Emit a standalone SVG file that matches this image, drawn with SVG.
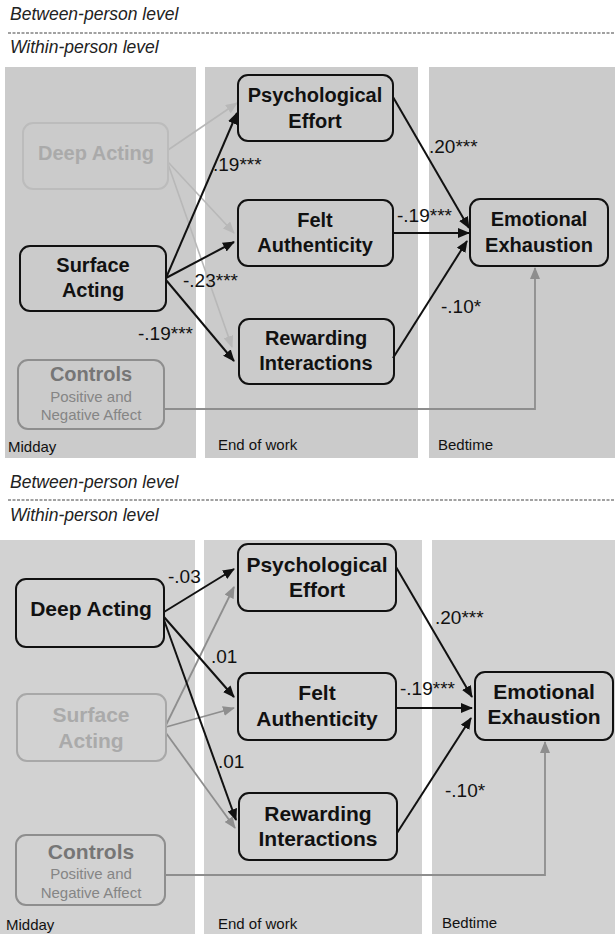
<svg xmlns="http://www.w3.org/2000/svg" width="615" height="934" viewBox="0 0 615 934">
<style>
.lvl{font-family:"Liberation Sans",Arial,sans-serif;font-style:italic;font-size:17.5px;fill:#222}
.col{fill:#cbcbcb}
.col2{fill:#d2d2d2}
.tm{font-family:"Liberation Sans",Arial,sans-serif;font-size:15px;fill:#111}
.box{fill:none;stroke:#111;stroke-width:2}
.gbox{fill:none;stroke:#bcbcbc;stroke-width:2}
.g2box{fill:none;stroke:#8e8e8e;stroke-width:2}
.nt{font-family:"Liberation Sans",Arial,sans-serif;font-weight:bold;font-size:20px;fill:#111;text-anchor:middle}
.nt2{font-family:"Liberation Sans",Arial,sans-serif;font-weight:bold;font-size:21px;fill:#111;text-anchor:middle}
.gt{fill:#aaaaaa}
.g2t{fill:#767676}
.sub{font-family:"Liberation Sans",Arial,sans-serif;font-size:15px;fill:#858585;text-anchor:middle}
.lab{font-family:"Liberation Sans",Arial,sans-serif;font-size:19px;fill:#111}
.blk{stroke:#111;stroke-width:2;fill:none;marker-end:url(#ab)}
.lg{stroke:#b8b8b8;stroke-width:1.6;fill:none;marker-end:url(#al)}
.mg{stroke:#8e8e8e;stroke-width:1.8;fill:none;marker-end:url(#am)}
.dash{stroke:#444;stroke-width:1.2;stroke-dasharray:3 1.5}
</style>
<defs>
<marker id="ab" markerWidth="12" markerHeight="10" refX="11" refY="5" orient="auto" markerUnits="userSpaceOnUse"><path d="M0,0 L12,5 L0,10 Z" fill="#111"/></marker>
<marker id="al" markerWidth="12" markerHeight="10" refX="11" refY="5" orient="auto" markerUnits="userSpaceOnUse"><path d="M0,0 L12,5 L0,10 Z" fill="#b8b8b8"/></marker>
<marker id="am" markerWidth="12" markerHeight="10" refX="11" refY="5" orient="auto" markerUnits="userSpaceOnUse"><path d="M0,0 L12,5 L0,10 Z" fill="#8e8e8e"/></marker>
</defs>
<rect width="615" height="934" fill="#fff"/>

<!-- Top panel header -->
<text class="lvl" x="10" y="20">Between-person level</text>
<line class="dash" x1="8" y1="33" x2="615" y2="33"/>
<text class="lvl" x="10" y="53">Within-person level</text>

<g id="top-columns">
<rect class="col" x="5" y="67" width="191" height="391"/>
<rect class="col" x="205" y="67" width="213" height="391"/>
<rect class="col" x="429" y="67" width="186" height="391"/>
<text class="tm" x="8" y="452">Midday</text>
<text class="tm" x="218" y="450">End of work</text>
<text class="tm" x="438" y="450">Bedtime</text>
</g>

<g id="top-connectors">
<line class="lg" x1="168" y1="150" x2="237" y2="103"/>
<line class="lg" x1="168" y1="162" x2="234" y2="233"/>
<line class="lg" x1="168" y1="164" x2="232" y2="347"/>
<line class="blk" x1="166" y1="278" x2="237" y2="113"/>
<line class="blk" x1="166" y1="278" x2="234" y2="242"/>
<line class="blk" x1="166" y1="280" x2="234" y2="361"/>
<line class="blk" x1="393" y1="97" x2="469" y2="228"/>
<line class="blk" x1="393" y1="233" x2="469" y2="233"/>
<line class="blk" x1="393" y1="358" x2="467" y2="241"/>
<polyline class="mg" points="164,409 535,409 535,268"/>
<text class="lab" x="213" y="171">.19***</text>
<text class="lab" x="183" y="287">-.23***</text>
<text class="lab" x="138" y="340">-.19***</text>
<text class="lab" x="429" y="153">.20***</text>
<text class="lab" x="397" y="222">-.19***</text>
<text class="lab" x="441" y="313">-.10*</text>
</g>

<g id="top-deep-acting">
<rect class="gbox" x="23" y="123" width="145" height="66" rx="10"/>
<text class="nt gt" x="96" y="160">Deep Acting</text>
</g>
<g id="top-surface-acting">
<rect class="box" x="20" y="246" width="146" height="65" rx="10"/>
<text class="nt" x="93" y="272">Surface</text>
<text class="nt" x="93" y="297">Acting</text>
</g>
<g id="top-controls">
<rect class="g2box" x="18" y="360" width="146" height="69" rx="10"/>
<text class="nt g2t" x="91" y="381">Controls</text>
<text class="sub" x="91" y="402">Positive and</text>
<text class="sub" x="91" y="420">Negative Affect</text>
</g>
<g id="top-psych-effort">
<rect class="box" x="238" y="75" width="155" height="66" rx="10"/>
<text class="nt" x="315" y="102">Psychological</text>
<text class="nt" x="315" y="128">Effort</text>
</g>
<g id="top-felt-auth">
<rect class="box" x="238" y="200" width="155" height="66" rx="10"/>
<text class="nt" x="315" y="227">Felt</text>
<text class="nt" x="315" y="252">Authenticity</text>
</g>
<g id="top-rewarding">
<rect class="box" x="239" y="319" width="155" height="65" rx="10"/>
<text class="nt" x="316" y="345">Rewarding</text>
<text class="nt" x="316" y="370">Interactions</text>
</g>
<g id="top-emotional-exhaustion">
<rect class="box" x="470" y="199" width="138" height="67" rx="10"/>
<text class="nt" x="539" y="226">Emotional</text>
<text class="nt" x="539" y="252">Exhaustion</text>
</g>

<!-- Bottom panel header -->
<text class="lvl" x="10" y="488">Between-person level</text>
<line class="dash" x1="8" y1="500" x2="615" y2="500"/>
<text class="lvl" x="10" y="521">Within-person level</text>

<g id="bottom-columns">
<rect class="col2" x="0" y="540" width="195" height="394"/>
<rect class="col2" x="204" y="540" width="218" height="394"/>
<rect class="col2" x="432" y="540" width="183" height="394"/>
<text class="tm" x="6" y="930">Midday</text>
<text class="tm" x="218" y="929">End of work</text>
<text class="tm" x="442" y="928">Bedtime</text>
</g>

<g id="bottom-connectors">
<line class="mg" x1="166" y1="725" x2="234" y2="587"/>
<line class="mg" x1="166" y1="727" x2="234" y2="708"/>
<line class="mg" x1="166" y1="733" x2="235" y2="828"/>
<line class="blk" x1="164" y1="612" x2="234" y2="569"/>
<line class="blk" x1="164" y1="617" x2="234" y2="697"/>
<line class="blk" x1="164" y1="620" x2="236" y2="820"/>
<line class="blk" x1="396" y1="567" x2="472" y2="697"/>
<line class="blk" x1="396" y1="708" x2="472" y2="708"/>
<line class="blk" x1="397" y1="833" x2="471" y2="718"/>
<polyline class="mg" points="165,875 545,875 545,742"/>
<text class="lab" x="168" y="583">-.03</text>
<text class="lab" x="211" y="663">.01</text>
<text class="lab" x="218" y="768">.01</text>
<text class="lab" x="435" y="624">.20***</text>
<text class="lab" x="400" y="695">-.19***</text>
<text class="lab" x="445" y="797">-.10*</text>
</g>

<g id="bottom-deep-acting">
<rect class="box" x="16" y="579" width="148" height="68" rx="10"/>
<text class="nt2" x="91" y="616">Deep Acting</text>
</g>
<g id="bottom-surface-acting">
<rect class="gbox" x="17" y="694" width="149" height="67" rx="10" style="stroke:#a8a8a8"/>
<text class="nt2 gt" x="91" y="722">Surface</text>
<text class="nt2 gt" x="91" y="748">Acting</text>
</g>
<g id="bottom-controls">
<rect class="g2box" x="16" y="835" width="149" height="70" rx="10"/>
<text class="nt2 g2t" x="91" y="859">Controls</text>
<text class="sub" x="91" y="879">Positive and</text>
<text class="sub" x="91" y="898">Negative Affect</text>
</g>
<g id="bottom-psych-effort">
<rect class="box" x="238" y="544" width="158" height="67" rx="10"/>
<text class="nt2" x="317" y="572">Psychological</text>
<text class="nt2" x="317" y="597">Effort</text>
</g>
<g id="bottom-felt-auth">
<rect class="box" x="238" y="673" width="158" height="67" rx="10"/>
<text class="nt2" x="317" y="700">Felt</text>
<text class="nt2" x="317" y="726">Authenticity</text>
</g>
<g id="bottom-rewarding">
<rect class="box" x="239" y="793" width="158" height="67" rx="10"/>
<text class="nt2" x="318" y="821">Rewarding</text>
<text class="nt2" x="318" y="846">Interactions</text>
</g>
<g id="bottom-emotional-exhaustion">
<rect class="box" x="475" y="672" width="138" height="68" rx="10"/>
<text class="nt2" x="544" y="699">Emotional</text>
<text class="nt2" x="544" y="724">Exhaustion</text>
</g>
</svg>
